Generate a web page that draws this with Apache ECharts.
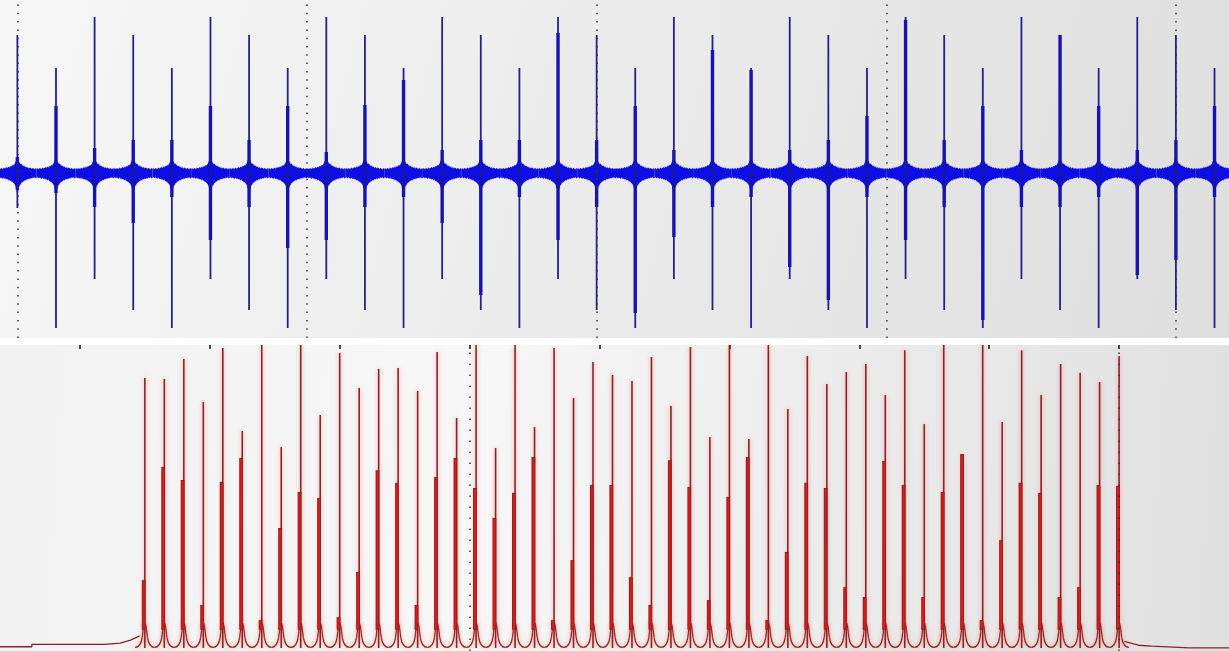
<!DOCTYPE html>
<html><head><meta charset="utf-8">
<script src="https://cdn.jsdelivr.net/npm/echarts@6/dist/echarts.min.js"></script>
<style>html,body{margin:0;padding:0;background:#fff}#c{width:1229px;height:651px}</style>
</head><body><div id="c"></div>
<script>
// ---------- top panel: time signal ----------
const spikeTimes = [0,40,80,120,160,200,240,280,320,360,400,440,480,520,560,600,640,680,720,760,800,840,880,920,960,1000,1040,1080,1120,1160,1200,1240];
const spikeUp = [1.38,1.05,1.56,1.38,1.05,1.56,1.38,1.05,1.56,1.38,1.05,1.56,1.38,1.05,1.56,1.38,1.05,1.56,1.38,1.05,1.56,1.38,1.05,1.56,1.38,1.05,1.56,1.38,1.05,1.56,1.38,1.05];
const spikeDown = [-0.35,-1.55,-1.06,-1.37,-1.55,-1.06,-1.37,-1.55,-1.06,-1.37,-1.55,-1.06,-1.37,-1.55,-1.06,-1.37,-1.55,-1.06,-1.37,-1.55,-1.06,-1.37,-1.55,-1.06,-1.37,-1.55,-1.06,-1.37,-1.55,-1.06,-1.37,-1.55];
const innerUp = [0.16,0.67,0.25,0.33,0.33,0.67,0.33,0.67,0.21,0.68,0.93,0.23,0.33,0.33,1.40,0.33,0.67,0.23,1.23,1.03,0.23,0.33,0.57,1.53,0.33,0.67,0.23,1.38,0.67,0.23,0.33,0.67];
const innerDown = [-0.17,-0.20,-0.34,-0.50,-0.24,-0.67,-0.34,-0.75,-0.67,-0.34,-0.24,-0.50,-1.22,-0.24,-0.67,-0.34,-1.40,-0.64,-0.34,-0.24,-0.94,-1.27,-0.24,-0.67,-0.34,-1.47,-0.34,-0.34,-0.24,-1.02,-0.87,-0.24];
// noise burst envelope around each spike (offset, upper edge, lower edge)
const burstDx = [-20,-19,-18,-17,-16,-15,-14,-13,-12,-11,-10,-9,-8,-7,-6,-5,-4,-3,-2,-1,0,1,2,3,4,5,6,7,8,9,10,11,12,13,14,15,16,17,18,19,20];
const burstUpper = [0.04,0.05,0.035,0.05,0.045,0.04,0.055,0.045,0.05,0.06,0.05,0.065,0.055,0.07,0.065,0.08,0.075,0.09,0.11,0.14,0.18,0.13,0.11,0.09,0.095,0.08,0.07,0.075,0.06,0.065,0.05,0.06,0.045,0.055,0.05,0.04,0.05,0.045,0.035,0.05,0.04];
const burstLower = [-0.05,-0.04,-0.055,-0.045,-0.05,-0.06,-0.045,-0.06,-0.055,-0.065,-0.06,-0.075,-0.065,-0.08,-0.085,-0.09,-0.1,-0.11,-0.13,-0.17,-0.23,-0.17,-0.13,-0.12,-0.1,-0.095,-0.085,-0.08,-0.07,-0.075,-0.06,-0.065,-0.055,-0.06,-0.05,-0.055,-0.045,-0.05,-0.04,-0.055,-0.05];
const topGridLines = [0,300,600,900,1200];

// ---------- bottom panel: spectrum ----------
const peakPos = [15,16.5,18,19.5,21,22.5,24,25.5,27,28.5,30,31.5,33,34.5,36,37.5,39,40.5,42,43.5,45,46.5,48,49.5,51,52.5,54,55.5,57,58.5,60,61.5,63,64.5,66,67.5,69,70.5,72,73.5,75,76.5,78,79.5,81,82.5,84,85.5,87,88.5,90];
const peakHeight = [89.1,88.8,95.4,81.2,99.0,71.6,100,66.3,100,76.9,97.4,85.8,92.1,92.4,84.8,97.7,75.9,100,66.0,100,72.9,99.0,82.5,94.4,90.1,88.1,96.0,79.9,99.3,69.6,100,69.0,100,78.9,96.4,87.1,91.1,93.7,83.5,98.3,73.9,100,64.0,100,74.6,98.3,83.5,93.7,90.8,87.8,96.4];
const peakInner = [22.4,59.7,55.4,14.2,54.8,62.7,9.2,39.6,51.5,49.5,10.2,25.1,58.7,54.5,14.2,56.4,62.7,52.8,42.9,51.2,63.0,9.2,29.0,53.8,53.8,23.4,14.2,62.0,53.1,15.8,49.8,63.0,9.2,31.7,54.5,52.8,20.1,16.8,61.7,53.8,16.8,51.5,64.0,9.2,35.6,54.5,51.2,16.8,20.1,53.8,53.5];
const leftTailX = [3.8,6.3,6.3,11.9,13.1,13.9,14.6];
const leftTailY = [0.4,0.4,1.2,1.2,1.6,2.6,4.0];
const rightTailX = [90.4,91.5,92.5,95.4,98.6];
const rightTailY = [2.2,0.9,0.6,0.0,0.0];
const bottomGridLines = [40,90];

const chart = echarts.init(document.getElementById('c'), null, {renderer:'canvas'});

function renderSpike(params, api) {
  const t = api.value(0);
  const pts = [];
  for (let i = 0; i < burstDx.length; i++) pts.push(api.coord([t + burstDx[i], burstUpper[i]]));
  for (let i = burstDx.length - 1; i >= 0; i--) pts.push(api.coord([t + burstDx[i], burstLower[i]]));
  const top = api.coord([t, api.value(1)]), bot = api.coord([t, api.value(2)]);
  const it = api.coord([t, api.value(3)]), ib = api.coord([t, api.value(4)]);
  return {type:'group', children:[
    {type:'polygon', shape:{points:pts}, style:{fill:'#0d0de4'}},
    {type:'line', shape:{x1:top[0],y1:top[1],x2:bot[0],y2:bot[1]}, style:{stroke:'#22228e', lineWidth:1.8}},
    {type:'line', shape:{x1:it[0],y1:it[1],x2:ib[0],y2:ib[1]}, style:{stroke:'#1414b0', lineWidth:3.4}}
  ]};
}

const redDark = '#8e2222';
const halo = {shadowBlur:4, shadowColor:'rgba(255,90,90,0.55)'};
function renderPeak(params, api) {
  const p = api.value(0), h = api.value(1), th = api.value(2);
  const c = (x, y) => api.coord([x, y]);
  const children = [];
  [-1, 1].forEach(s => {
    const a = c(p + s*0.75, 0.2), cp1 = c(p + s*0.45, 0.2), cp2 = c(p + s*0.28, 1.2), b = c(p + s*0.2, 3.5);
    children.push({type:'bezierCurve', shape:{x1:a[0],y1:a[1],x2:b[0],y2:b[1],cpx1:cp1[0],cpy1:cp1[1],cpx2:cp2[0],cpy2:cp2[1]},
      style:Object.assign({stroke:redDark, lineWidth:1.3, fill:null}, halo)});
    const q1 = c(p + s*0.1, 7.0), q2 = c(p + s*0.03, 8.2);
    children.push({type:'polyline', shape:{points:[b, q1, q2]}, style:Object.assign({stroke:redDark, lineWidth:1.3, fill:null}, halo)});
  });
  const base = c(p, 0), top = c(p, h);
  children.push({type:'line', shape:{x1:base[0],y1:base[1],x2:top[0],y2:top[1]}, style:Object.assign({stroke:redDark, lineWidth:1.6}, halo)});
  const tb = c(p - 0.09, 6), tt = c(p - 0.09, th);
  children.push({type:'line', shape:{x1:tb[0],y1:tb[1],x2:tt[0],y2:tt[1]}, style:{stroke:redDark, lineWidth:3.8}});
  children.push({type:'line', shape:{x1:tb[0],y1:tb[1]-1,x2:tt[0],y2:tt[1]+1}, style:{stroke:'#e01818', lineWidth:2}});
  return {type:'group', children};
}

const option = {
  animation: false,
  backgroundColor: '#ffffff',
  grid: [
    {left:0, width:1229, top:0, height:338, show:true, borderWidth:0, outerBoundsMode:'none', containLabel:false,
     backgroundColor:{type:'linear', x:0, y:0, x2:1, y2:1, colorStops:[{offset:0,color:'#f7f7f7'},{offset:1,color:'#dedede'}]}},
    {left:-50, width:1299, top:345, height:306, show:true, borderWidth:0, outerBoundsMode:'none', containLabel:false,
     backgroundColor:{type:'linear', x:0, y:0, x2:1, y2:0.3, colorStops:[{offset:0,color:'#f1f1f1'},{offset:0.4,color:'#f7f7f7'},{offset:1,color:'#e0e0e0'}]}}
  ],
  xAxis: [
    {gridIndex:0, type:'value', min:-18, max:1255, show:false},
    {gridIndex:1, type:'value', min:0, max:100, interval:10, position:'top',
     axisLine:{show:false, onZero:false}, axisLabel:{show:false}, splitLine:{show:false},
     axisTick:{show:true, inside:true, length:4, lineStyle:{color:'#111', width:1.5}}}
  ],
  yAxis: [
    {gridIndex:0, type:'value', min:-1.65, max:1.73, show:false},
    {gridIndex:1, type:'value', min:-1, max:100, show:false}
  ],
  series: [
    {type:'line', xAxisIndex:0, yAxisIndex:0, data:[], z:1, silent:true,
     markLine:{silent:true, symbol:'none', label:{show:false},
       lineStyle:{color:'#333', width:1.5, type:[1.5,6.8]},
       data: topGridLines.map(v => ({xAxis:v}))}},
    {type:'custom', xAxisIndex:0, yAxisIndex:0, z:2, clip:true,
     renderItem: renderSpike, encode:{x:0, y:[1,2]},
     data: spikeTimes.map((t,i) => [t, spikeUp[i], spikeDown[i], innerUp[i], innerDown[i]])},
    {type:'line', xAxisIndex:1, yAxisIndex:1, data:[], z:1, silent:true,
     markLine:{silent:true, symbol:'none', label:{show:false},
       lineStyle:{color:'#333', width:1.5, type:[1.5,9.5]},
       data: bottomGridLines.map(v => ({xAxis:v}))}},
    {type:'line', xAxisIndex:1, yAxisIndex:1, z:2, symbol:'none', silent:true,
     lineStyle:{color:redDark, width:1.3},
     data: leftTailX.map((x,i) => [x, leftTailY[i]])},
    {type:'line', xAxisIndex:1, yAxisIndex:1, z:2, symbol:'none', silent:true,
     lineStyle:{color:redDark, width:1.3},
     data: rightTailX.map((x,i) => [x, rightTailY[i]])},
    {type:'custom', xAxisIndex:1, yAxisIndex:1, z:3, clip:true,
     renderItem: renderPeak, encode:{x:0, y:[1,2]},
     data: peakPos.map((p,i) => [p, peakHeight[i], peakInner[i]])}
  ]
};
chart.setOption(option);
</script>
</body></html>
